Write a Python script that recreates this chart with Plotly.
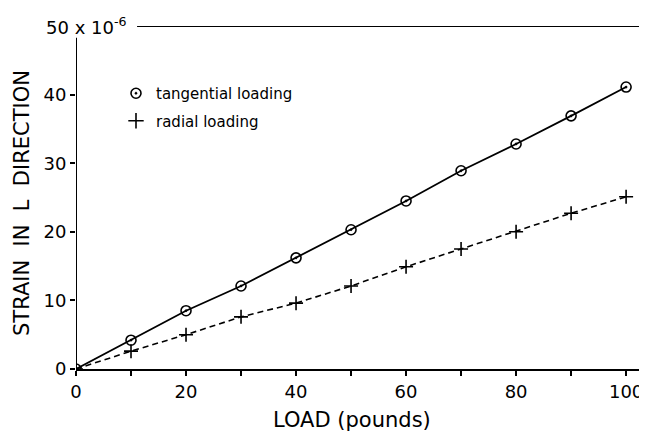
import plotly.graph_objects as go

load = [0, 10, 20, 30, 40, 50, 60, 70, 80, 90, 100]
tangential = [0, 4.2, 8.5, 12.1, 16.2, 20.3, 24.5, 28.9, 32.8, 36.9, 41.1]
radial = [0, 2.6, 5.0, 7.6, 9.6, 12.1, 14.9, 17.5, 20.0, 22.7, 25.1]
x_tickvals = [0, 10, 20, 30, 40, 50, 60, 70, 80, 90, 100]
x_ticktext = ["0", "", "20", "", "40", "", "60", "", "80", "", "100"]
y_tickvals = [0, 10, 20, 30, 40]
y_ticktext = ["0", "10", "20", "30", "40"]

FONT = "DejaVu Sans"
OFF = 8  # browser body margin
W, H = 647 - OFF, 432 - OFF
ML = 76 - OFF
MT = 26 - OFF
MB = 432 - 369
MR = 0
XMAX = 103.8
pw = W - ML - MR
ph = H - MT - MB


def px_x(p):
    return (p - OFF - ML) / pw


def px_y(p):
    return 1 - (p - OFF - MT) / ph


fig = go.Figure()
fig.add_trace(go.Scatter(
    x=load, y=tangential, mode="lines+markers", name="tangential loading",
    line=dict(color="black", width=1.8),
    marker=dict(symbol="circle-open-dot", size=10, color="black", line=dict(width=1.6)),
    showlegend=False))
fig.add_trace(go.Scatter(
    x=load, y=radial, mode="lines+markers", name="radial loading",
    line=dict(color="black", width=1.6, dash="6px,4px"),
    marker=dict(symbol="cross-thin-open", size=10, color="black", line=dict(width=1.6)),
    showlegend=False))
# legend entries (markers only)
fig.add_trace(go.Scatter(
    x=[None], y=[None], mode="markers", name="tangential loading", legendgroup="a",
    marker=dict(symbol="circle-open-dot", size=10, color="black", line=dict(width=1.6))))
fig.add_trace(go.Scatter(
    x=[None], y=[None], mode="markers", name="radial loading", legendgroup="b",
    marker=dict(symbol="cross-thin-open", size=11, color="black", line=dict(width=1.6))))

fig.update_layout(
    width=W, height=H,
    margin=dict(l=ML, r=MR, t=MT, b=MB),
    paper_bgcolor="white", plot_bgcolor="white",
    font=dict(family=FONT, color="black", size=18),
    legend=dict(x=px_x(116), y=px_y(77), xanchor="left", yanchor="top",
                font=dict(size=15, family=FONT), bgcolor="rgba(0,0,0,0)",
                itemwidth=30, tracegroupgap=5, traceorder="grouped"),
    xaxis=dict(range=[0, XMAX], tickvals=x_tickvals, ticktext=x_ticktext,
               showgrid=False, zeroline=False, showline=True, linecolor="black", linewidth=2,
               ticks="outside", ticklen=5, tickwidth=1.5, tickcolor="black",
               tickfont=dict(size=18)),
    yaxis=dict(range=[0, 50], tickvals=y_tickvals, ticktext=y_ticktext,
               showgrid=False, zeroline=False, showline=False,
               ticks="outside", ticklen=5, tickwidth=1.5, tickcolor="black",
               tickfont=dict(size=18)),
    shapes=[
        dict(type="line", xref="x", yref="y", x0=0, x1=0, y0=0, y1=48.3,
             line=dict(color="black", width=2)),
        dict(type="line", xref="x", yref="y", x0=11.1, x1=XMAX, y0=50, y1=50,
             line=dict(color="black", width=2)),
    ],
    annotations=[
        dict(text="50 x 10<sup>-6</sup>", xref="paper", yref="y", x=px_x(44), y=50,
             xanchor="left", yanchor="middle", showarrow=False, font=dict(size=18)),
        dict(text="LOAD (pounds)", xref="paper", yref="paper", x=px_x(352),
             y=px_y(420), xanchor="center", yanchor="middle",
             showarrow=False, font=dict(size=21)),
        dict(text="STRAIN  IN  L  DIRECTION", xref="paper", yref="paper", x=px_x(22),
             y=px_y(203), xanchor="center", yanchor="middle",
             textangle=-90, showarrow=False, font=dict(size=21)),
    ],
)
fig.write_html("out.html")
